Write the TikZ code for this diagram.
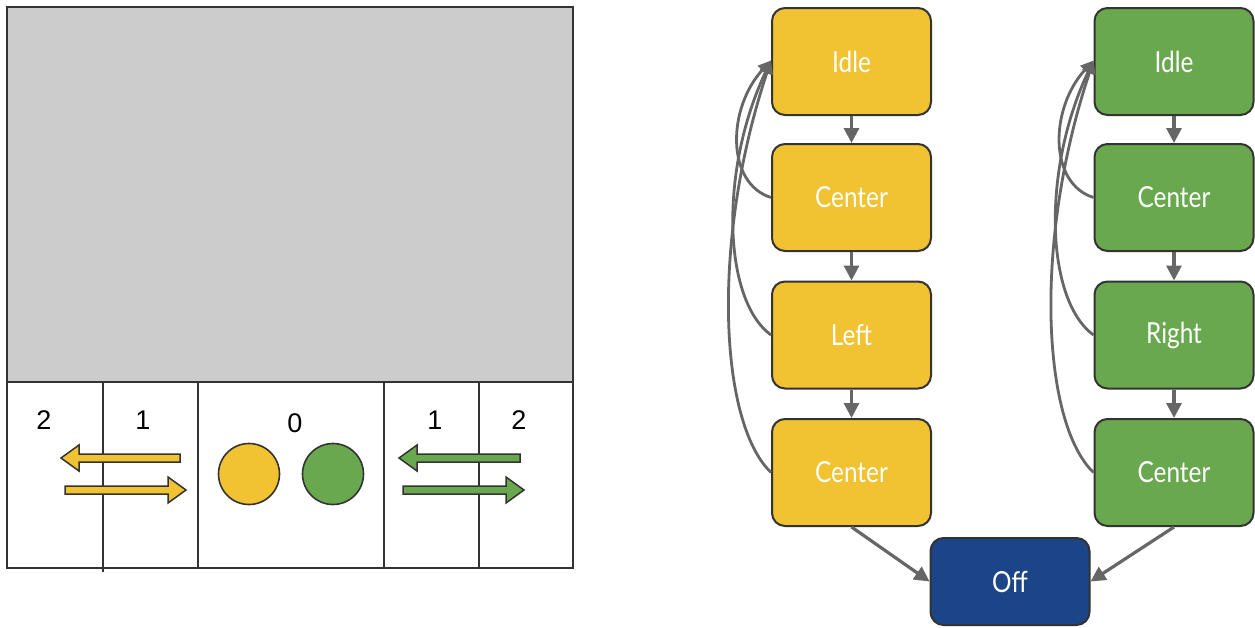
\documentclass[tikz,border=0pt]{standalone}
\usepackage{fontspec}
\setmainfont{Liberation Sans}
\newfontfamily\boxfont[FakeStretch=0.84]{Lato}
\usetikzlibrary{arrows.meta}

\definecolor{laneyellow}{HTML}{F1C232}
\definecolor{lanegreen}{HTML}{6AA84F}
\definecolor{offblue}{HTML}{1C4587}
\definecolor{screengray}{HTML}{CCCCCC}
\definecolor{edgedark}{HTML}{333333}
\definecolor{flowgray}{HTML}{666666}

\tikzset{
  panel/.style={draw=edgedark, line width=2pt},
  state/.style={draw=edgedark, line width=2pt, rounded corners=13pt,
    minimum width=159pt, minimum height=107pt, inner sep=0pt,
    text=white, font=\boxfont\fontsize{29}{32}\selectfont},
  flow/.style={draw=flowgray, line width=3.2pt,
    -{Triangle[length=15pt,width=15pt]}},
  backflow/.style={draw=flowgray, line width=2.8pt,
    -{Triangle[length=13pt,width=12pt]}},
  blockarrow/.style={draw=edgedark, line width=1.5pt},
  lanenum/.style={font=\fontsize{27}{29}\selectfont, text=black},
  lamp/.style={circle, draw=edgedark, line width=1.6pt, minimum size=61pt, inner sep=0pt}
}

\begin{document}
\begin{tikzpicture}[x=1pt, y=-1pt]
\useasboundingbox (0,0) rectangle (1255,627);

% ---- screen and lane strip ----
\fill[screengray] (7,7) rectangle (573,382);
\draw[panel] (7,7) rectangle (573,382);
\draw[panel] (7,382) rectangle (573,568);
\draw[panel] (103,382) -- (103,572);
\draw[panel] (198,382) -- (198,568);
\draw[panel] (384,382) -- (384,568);
\draw[panel] (479,382) -- (479,568);

\node[lanenum] (n2l) at (44,420) {2};
\node[lanenum] (n1l) at (143,420) {1};
\node[lanenum] (n0)  at (295,423) {0};
\node[lanenum] (n1r) at (435,420) {1};
\node[lanenum] (n2r) at (519,420) {2};

% lane change arrows
\filldraw[blockarrow, fill=laneyellow]
  (180,454) -- (79,454) -- (79,445) -- (61,458) -- (79,471) -- (79,462) -- (180,462) -- cycle;
\filldraw[blockarrow, fill=laneyellow]
  (65,486) -- (168,486) -- (168,477) -- (186,490) -- (168,503) -- (168,494) -- (65,494) -- cycle;
\filldraw[blockarrow, fill=lanegreen]
  (520,454) -- (417,454) -- (417,445) -- (399,458) -- (417,471) -- (417,462) -- (520,462) -- cycle;
\filldraw[blockarrow, fill=lanegreen]
  (403,486) -- (506,486) -- (506,477) -- (524,490) -- (506,503) -- (506,494) -- (403,494) -- cycle;

% player lamps
\node[lamp, fill=laneyellow] (lampy) at (249,474) {};
\node[lamp, fill=lanegreen]  (lampg) at (333,474) {};

% ---- state machines ----
\node[state, fill=laneyellow] (yidle) at (851.5,61.5) {Idle};
\node[state, fill=laneyellow] (yc1)   at (851.5,197.5) {Center};
\node[state, fill=laneyellow] (yside) at (851.5,335) {Left};
\node[state, fill=laneyellow] (yc2)   at (851.5,472.5) {Center};

\node[state, fill=lanegreen] (gidle) at (1174,61.5) {Idle};
\node[state, fill=lanegreen] (gc1)   at (1174,197.5) {Center};
\node[state, fill=lanegreen] (gside) at (1174,335) {Right};
\node[state, fill=lanegreen] (gc2)   at (1174,472.5) {Center};

\node[state, fill=offblue, minimum height=87pt] (off) at (1010,581.5) {Off};

\foreach \p in {y,g}{
  \draw[flow] (\p idle.south) -- (\p c1.north);
  \draw[flow] (\p c1.south) -- (\p side.north);
  \draw[flow] (\p side.south) -- (\p c2.north);
  \draw[backflow] (\p c1.west) .. controls +(-45,-14) and +(-44,48) .. ([yshift=1pt]\p idle.west);
  \draw[backflow] (\p side.west) .. controls +(-48,-35) and +(-52,110) .. ([yshift=1pt]\p idle.west);
  \draw[backflow] (\p c2.west) .. controls +(-52,-50) and +(-60,180) .. ([yshift=1pt]\p idle.west);
}

\draw[flow] (yc2.south) -- (off.west);
\draw[flow] (gc2.south) -- (off.east);

\end{tikzpicture}
\end{document}
